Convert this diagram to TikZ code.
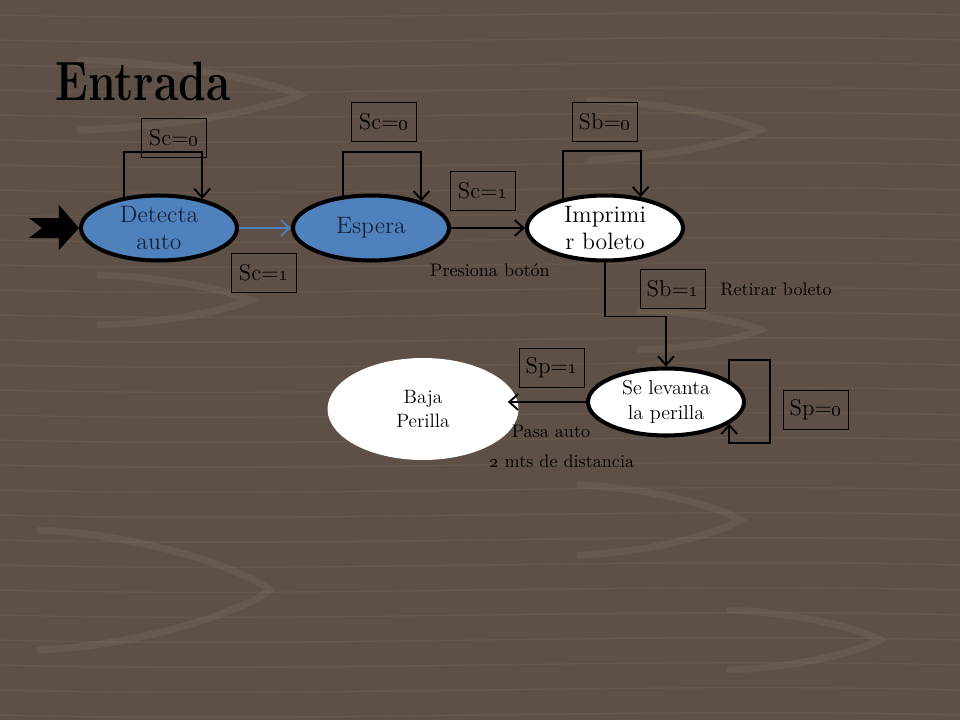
\documentclass[tikz,border=0pt]{standalone}
\usepackage{tikz}
\usetikzlibrary{arrows.meta,shapes.geometric}

\definecolor{madera}{RGB}{94,80,70}
\definecolor{veta}{RGB}{160,140,122}
\definecolor{azulestado}{RGB}{79,129,189}
\definecolor{tinta}{RGB}{22,34,60}

\tikzset{
  estado/.style={ellipse, draw=black, line width=2.3pt, inner sep=0pt,
    minimum width=3.12cm, minimum height=1.3cm, align=center,
    font=\fontsize{13.5}{15.5}\selectfont},
  azul/.style={estado, fill=azulestado, text=tinta},
  blanco/.style={estado, fill=white},
  cond/.style={draw=black, line width=0.5pt, minimum width=1.3cm,
    minimum height=0.78cm, inner sep=0pt, font=\fontsize{13}{13}\selectfont},
  nota/.style={inner sep=0pt, font=\fontsize{10.3}{11}\selectfont},
  lazo/.style={line width=1.1pt, -{Straight Barb[length=5pt,width=9pt]}},
  flecha/.style={line width=1.1pt, -{Straight Barb[length=5pt,width=9pt]}},
  vetas/.style={draw=veta, line width=4pt, opacity=0.16, line cap=round},
  vetafina/.style={draw=veta, line width=0.8pt, opacity=0.12},
}

\begin{document}
\begin{tikzpicture}[x=0.02cm, y=-0.02cm]
\useasboundingbox (0,0) rectangle (960,720);
\fill[madera] (0,0) rectangle (960,720);
\foreach \y in {15,40,...,715}
  \draw[vetafina] (0,\y) .. controls (320,\y+8) and (640,\y-8) .. (960,\y);
\foreach \cx/\cy/\w/\h in {300/95/220/35, 250/300/150/25, 270/590/230/60,
    760/130/170/30, 740/520/160/35, 760/330/120/20, 880/640/150/30}
  \draw[vetas] (\cx-\w,\cy-\h) .. controls (\cx-\w*0.5,\cy-\h*0.9) and (\cx-\w*0.1,\cy-\h*0.3) .. (\cx,\cy)
    .. controls (\cx-\w*0.1,\cy+\h*0.3) and (\cx-\w*0.5,\cy+\h*0.9) .. (\cx-\w,\cy+\h);

\node[anchor=base west, inner sep=0pt, font=\fontsize{31.5}{32}\selectfont\bfseries] (titulo) at (55,100) {\scalebox{0.8}[1]{Entrada}};

\node[azul] (det) at (159,228) {Detecta\\auto};
\node[azul] (esp) at (371,228) {Espera};
\node[blanco] (imp) at (605,228) {Imprimi\\r boleto};
\node[blanco, minimum height=1.34cm, font=\fontsize{11.5}{14}\selectfont] (lev) at (666,402) {Se levanta\\la perilla};
\node[ellipse, fill=white, minimum width=3.82cm, minimum height=2.04cm, align=center,
  font=\fontsize{11}{14}\selectfont] (baja) at (423,409) {Baja\\Perilla};

\fill[black] (det.west) -- ++(-20,-23) -- ++(0,13) -- ++(-30,0) -- ++(13,10)
  -- ++(-13,10) -- ++(30,0) -- ++(0,12) -- cycle;

\node[cond] (c1) at (174,138) {Sc=\oldstylenums{0}};
\node[cond] (c2) at (264,273) {Sc=\oldstylenums{1}};
\node[cond] (c3) at (384,122) {Sc=\oldstylenums{0}};
\node[cond] (c4) at (483,191) {Sc=\oldstylenums{1}};
\node[cond] (c5) at (605,122) {Sb=\oldstylenums{0}};
\node[cond] (c6) at (673,289) {Sb=\oldstylenums{1}};
\node[cond] (c7) at (552,368) {Sp=\oldstylenums{1}};
\node[cond] (c8) at (816,410) {Sp=\oldstylenums{0}};

\node[nota] (n1) at (490,270) {Presiona botón};
\node[nota] (n2) at (776,289) {Retirar boleto};
\node[nota] (n3) at (551,431) {Pasa auto};
\node[nota] (n4) at (562,461) {\oldstylenums{2} mts de distancia};

\draw[lazo] (det.138) -- ++(0,-45) -| (det.34);
\draw[lazo] (esp.131) -- ++(0,-44) -| (esp.28);
\draw[lazo] (imp.145) -- ++(0,-48) -| (imp.41);
\draw[lazo] (lev.19) -- ++(0,-20) -- ++(41,0) -- ++(0,83) -| (lev.-19);

\draw[line width=1pt, azulestado, -{Straight Barb[length=5pt,width=9pt]}] (det.east) -- (esp.west);
\draw[flecha] (esp.east) -- (imp.west);
\draw[flecha] (imp.south) -- ++(0,54) -| (lev.north);
\draw[flecha, shorten >=-0.22cm] (lev.west) -- (lev.west -| baja.east);
\end{tikzpicture}
\end{document}
